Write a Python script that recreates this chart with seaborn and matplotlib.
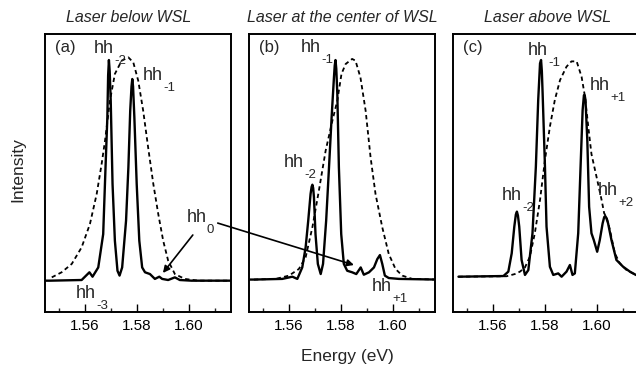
import numpy as np
import pandas as pd
import matplotlib
matplotlib.use("Agg")
import matplotlib.pyplot as plt
import seaborn as sns
from matplotlib.patches import ConnectionPatch

# ---------------- data ----------------
titles = ["Laser below WSL", "Laser at the center of WSL", "Laser above WSL"]
panel_tags = ["(a)", "(b)", "(c)"]
xticks_major = [1.56, 1.58, 1.60]
xtick_labels = ["1.56", "1.58", "1.60"]
xticks_minor = [1.55, 1.57, 1.59, 1.61]

# panel (a): laser below WSL
energy_a_solid = [1.5440, 1.5465, 1.5587, 1.5617, 1.5629, 1.5651, 1.5670, 1.5679, 1.5686, 1.5689,
                  1.5692, 1.5695, 1.5699, 1.5706, 1.5715, 1.5725, 1.5733, 1.5743, 1.5758, 1.5767,
                  1.5774, 1.5779, 1.5782, 1.5785, 1.5790, 1.5799, 1.5809, 1.5820, 1.5831, 1.5850,
                  1.5869, 1.5886, 1.5897, 1.5920, 1.5946, 1.5965, 1.6010, 1.6170]
intensity_a_solid = [0.000, 0.000, 0.003, 0.038, 0.018, 0.060, 0.211, 0.514, 0.740, 0.930,
                     1.000, 0.950, 0.816, 0.438, 0.181, 0.045, 0.023, 0.060, 0.272, 0.514,
                     0.770, 0.880, 0.914, 0.880, 0.740, 0.438, 0.181, 0.060, 0.038, 0.030,
                     0.008, 0.018, 0.008, 0.003, 0.015, 0.003, 0.000, 0.000]
energy_a_dash = [1.5472, 1.5510, 1.5549, 1.5587, 1.5619, 1.5645, 1.5664, 1.5677, 1.5696, 1.5715,
                 1.5741, 1.5767, 1.5786, 1.5805, 1.5824, 1.5843, 1.5863, 1.5882, 1.5901, 1.5920,
                 1.5946, 1.5984, 1.6036, 1.6170]
intensity_a_dash = [0.015, 0.038, 0.076, 0.151, 0.257, 0.393, 0.529, 0.634, 0.816, 0.937,
                    0.997, 1.012, 0.989, 0.906, 0.770, 0.604, 0.438, 0.302, 0.181, 0.091,
                    0.030, 0.008, 0.000, 0.000]

# panel (b): laser at the center of WSL
energy_b_solid = [1.5440, 1.5465, 1.5574, 1.5613, 1.5632, 1.5651, 1.5664, 1.5674, 1.5683, 1.5687,
                  1.5690, 1.5693, 1.5696, 1.5702, 1.5711, 1.5722, 1.5731, 1.5743, 1.5754, 1.5764,
                  1.5773, 1.5776, 1.5779, 1.5782, 1.5786, 1.5792, 1.5801, 1.5811, 1.5824, 1.5843,
                  1.5859, 1.5876, 1.5888, 1.5908, 1.5927, 1.5940, 1.5950, 1.5959, 1.5969, 1.5984,
                  1.6023, 1.6170]
intensity_b_solid = [0.005, 0.005, 0.008, 0.018, 0.008, 0.060, 0.151, 0.272, 0.393, 0.425,
                     0.435, 0.420, 0.378, 0.211, 0.076, 0.030, 0.076, 0.272, 0.514, 0.740,
                     0.921, 0.975, 1.000, 0.960, 0.846, 0.514, 0.211, 0.076, 0.045, 0.038,
                     0.030, 0.060, 0.027, 0.038, 0.060, 0.098, 0.116, 0.076, 0.023, 0.012,
                     0.008, 0.005]
energy_b_dash = [1.5465, 1.5549, 1.5600, 1.5638, 1.5664, 1.5690, 1.5715, 1.5741, 1.5767, 1.5786,
                 1.5802, 1.5818, 1.5843, 1.5856, 1.5875, 1.5895, 1.5914, 1.5933, 1.5959, 1.5984,
                 1.6010, 1.6036, 1.6074, 1.6170]
intensity_b_dash = [0.005, 0.008, 0.023, 0.053, 0.106, 0.242, 0.408, 0.589, 0.725, 0.816,
                    0.937, 0.982, 1.005, 0.997, 0.921, 0.770, 0.559, 0.393, 0.242, 0.121,
                    0.053, 0.023, 0.008, 0.005]

# panel (c): laser above WSL
energy_c_solid = [1.5467, 1.5640, 1.5659, 1.5672, 1.5682, 1.5688, 1.5692, 1.5696, 1.5701, 1.5710,
                  1.5723, 1.5736, 1.5752, 1.5765, 1.5774, 1.5781, 1.5785, 1.5788, 1.5791, 1.5800,
                  1.5806, 1.5819, 1.5832, 1.5851, 1.5864, 1.5883, 1.5896, 1.5906, 1.5915, 1.5928,
                  1.5938, 1.5945, 1.5950, 1.5953, 1.5956, 1.5963, 1.5970, 1.5979, 1.5988, 1.6001,
                  1.6011, 1.6022, 1.6028, 1.6032, 1.6036, 1.6043, 1.6056, 1.6075, 1.6101, 1.6127,
                  1.6150, 1.6170]
intensity_c_solid = [0.018, 0.021, 0.041, 0.124, 0.245, 0.300, 0.313, 0.295, 0.245, 0.094,
                     0.026, 0.048, 0.215, 0.517, 0.819, 0.985, 1.000, 0.950, 0.849, 0.517,
                     0.245, 0.063, 0.026, 0.033, 0.018, 0.041, 0.071, 0.026, 0.033, 0.215,
                     0.547, 0.773, 0.841, 0.840, 0.819, 0.637, 0.335, 0.215, 0.184, 0.131,
                     0.184, 0.260, 0.288, 0.293, 0.285, 0.260, 0.184, 0.094, 0.063, 0.041,
                     0.026, 0.024]
energy_c_dash = [1.5467, 1.5652, 1.5684, 1.5704, 1.5723, 1.5742, 1.5761, 1.5781, 1.5800, 1.5819,
                 1.5838, 1.5858, 1.5883, 1.5902, 1.5922, 1.5941, 1.5954, 1.5967, 1.5979, 1.5999,
                 1.6018, 1.6028, 1.6037, 1.6050, 1.6069, 1.6088, 1.6114, 1.6150, 1.6170]
intensity_c_dash = [0.018, 0.020, 0.030, 0.041, 0.060, 0.109, 0.215, 0.366, 0.547, 0.698,
                    0.819, 0.909, 0.970, 0.994, 0.994, 0.924, 0.834, 0.695, 0.574, 0.468,
                    0.366, 0.305, 0.290, 0.230, 0.124, 0.079, 0.048, 0.026, 0.024]

# peak labels: (panel, "hh" anchor energy, anchor intensity, subscript)
peak_labels = [
    (0, 1.5634, 1.032, "-2"), (0, 1.5823, 0.909, "-1"), (0, 1.5992, 0.266, "0"),
    (0, 1.5565, -0.079, "-3"),
    (1, 1.5646, 1.036, "-1"), (1, 1.5581, 0.515, "-2"), (1, 1.5919, -0.047, "+1"),
    (2, 1.5734, 1.023, "-1"), (2, 1.5973, 0.864, "+1"), (2, 1.5634, 0.366, "-2"),
    (2, 1.6005, 0.388, "+2"),
]

# ---------------- figure ----------------
sns.set_style("white")
plt.rcParams['font.family'] = ['Liberation Sans', 'DejaVu Sans']

W, H = 636, 370
fig = plt.figure(figsize=(W / 100, H / 100), dpi=100)

lefts = [45, 249, 453]
pw, top, bot = 186, 34, 312
axes = []
for L in lefts:
    ax = fig.add_axes([L / W, (H - bot) / H, pw / W, (bot - top) / H])
    axes.append(ax)

curves = [
    (energy_a_solid, intensity_a_solid, energy_a_dash, intensity_a_dash),
    (energy_b_solid, intensity_b_solid, energy_b_dash, intensity_b_dash),
    (energy_c_solid, intensity_c_solid, energy_c_dash, intensity_c_dash),
]

title_x = [0.452, 0.5, 0.51]
for i, (ax, (es, is_, ed, id_)) in enumerate(zip(axes, curves)):
    dfs = pd.DataFrame({"Energy": es, "Intensity": is_})
    dfd = pd.DataFrame({"Energy": ed, "Intensity": id_})
    sns.lineplot(data=dfd, x="Energy", y="Intensity", ax=ax, color="black", lw=1.3,
                 linestyle=(0, (2.4, 1.8)), estimator=None, sort=False)
    sns.lineplot(data=dfs, x="Energy", y="Intensity", ax=ax, color="black", lw=1.7,
                 estimator=None, sort=False)
    ax.set_xlim(1.5446, 1.6162)
    ax.set_ylim(-0.142, 1.118)
    ax.set_xlabel("")
    ax.set_ylabel("")
    ax.set_yticks([])
    ax.set_xticks(xticks_major)
    ax.set_xticklabels(xtick_labels, fontsize=11)
    ax.set_xticks(xticks_minor, minor=True)
    ax.tick_params(axis="x", which="major", direction="in", length=5.5, width=1.0,
                   pad=5, bottom=True, colors="black")
    ax.tick_params(axis="x", which="minor", direction="in", length=3, width=1.0, bottom=True)
    for s in ax.spines.values():
        s.set_linewidth(1.4)
        s.set_color("black")
        s.set_visible(True)
    ax.text(title_x[i], 1.043, titles[i], transform=ax.transAxes, ha="center",
            va="baseline", fontsize=11.5, style="italic")
    ax.text(0.054, 0.935, panel_tags[i], transform=ax.transAxes, ha="left",
            va="baseline", fontsize=12)

for p, e, inten, sub in peak_labels:
    ax = axes[p]
    ax.text(e, inten, "hh", ha="left", va="baseline", fontsize=13, clip_on=False)
    ax.annotate(sub, xy=(e, inten), xytext=(14.5, -8), textcoords="offset points",
                ha="left", va="baseline", fontsize=9.5, annotation_clip=False)

# short arrow to hh0 in (a)
axes[0].annotate("", xy=(1.5900, 0.035), xytext=(1.6015, 0.207),
                 arrowprops=dict(arrowstyle="-|>", color="black", lw=1.2,
                                 mutation_scale=10, shrinkA=0, shrinkB=0))
# long arrow from hh0 label into (b)
con = ConnectionPatch(xyA=(1.6111, 0.261), coordsA=axes[0].transData,
                      xyB=(1.5850, 0.071), coordsB=axes[1].transData,
                      arrowstyle="-|>", color="black", lw=1.2, mutation_scale=10,
                      shrinkA=0, shrinkB=0)
fig.add_artist(con)

fig.text(18 / W, 1 - 170 / H, "Intensity", rotation=90, ha="center", va="center", fontsize=12.5)
fig.text(347 / W, 1 - 357 / H, "Energy (eV)", ha="center", va="center", fontsize=12.5)

fig.savefig("out.png", dpi=100)
